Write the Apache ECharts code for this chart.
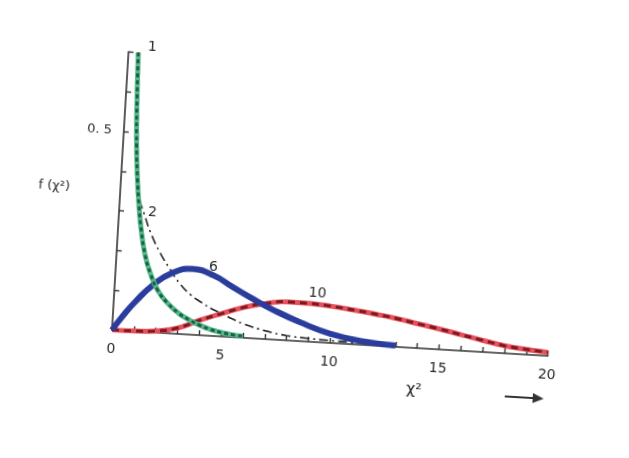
<!DOCTYPE html>
<html>
<head>
<meta charset="utf-8">
<script src="https://cdn.jsdelivr.net/npm/echarts@6/dist/echarts.min.js"></script>
<style>
html,body{margin:0;padding:0;background:#fff;overflow:hidden;}
#c{width:629px;height:458px;transform:rotate(3.4deg);transform-origin:112px 330px;}
</style>
</head>
<body>
<div id="c"></div>
<script>
// chi-square density curves: [chi2, f(chi2)]
const df1 = [[0.45,0.70],[0.52,0.58],[0.62,0.47],[0.76,0.38],[0.9,0.315],[1.05,0.26],[1.3,0.195],[1.6,0.148],[2.0,0.105],[2.5,0.074],[3.0,0.052],[3.5,0.037],[4.0,0.025],[4.5,0.016],[5.0,0.010],[5.5,0.006],[6.0,0.004]];
const df2 = [[0.9,0.33],[1.2,0.29],[1.5,0.25],[2,0.2],[2.5,0.16],[3,0.125],[3.5,0.1],[4,0.083],[4.5,0.068],[5,0.057],[5.5,0.045],[6,0.035],[7,0.021],[8,0.012],[9,0.008],[10,0.006],[11,0.005],[13,0.004]];
const df6 = [[0,0],[0.5,0.04],[1,0.075],[1.75,0.119],[2.6,0.152],[3.5,0.165],[4.5,0.152],[5.4,0.126],[6.4,0.098],[7.3,0.075],[8.6,0.047],[10,0.023],[11.5,0.009],[13,0.003]];
const df10 = [[0,0],[1,0.0008],[2,0.004],[3,0.015],[4,0.038],[5,0.058],[6,0.077],[7,0.09],[8,0.097],[9,0.096],[10,0.092],[11,0.086],[12,0.079],[13,0.071],[14,0.061],[15,0.051],[16,0.04],[17,0.029],[18,0.019],[19,0.013],[20,0.009]];
const xTickLabels = [0,5,10,15,20];
const yTickLabels = [0.5];
const curveNames = ['1','2','6','10'];

const chart = echarts.init(document.getElementById('c'));
const txt = {fontSize:14, fill:'#2a2a2a', fontFamily:'DejaVu Sans'};
chart.setOption({
  animation:false,
  grid:{left:112, top:51.4, width:436.6, height:278.6, containLabel:false},
  xAxis:{type:'value', min:0, max:20, interval:1,
    axisLine:{lineStyle:{color:'#333', width:1.6}},
    axisTick:{inside:true, length:5, lineStyle:{color:'#333', width:1.4}},
    axisLabel:{margin:12, fontSize:14, color:'#2a2a2a', fontFamily:'DejaVu Sans',
      formatter:v=> xTickLabels.includes(Math.round(v*1000)/1000) ? String(v) : ''},
    splitLine:{show:false}},
  yAxis:{type:'value', min:0, max:0.7, interval:0.1,
    axisLine:{show:true, lineStyle:{color:'#333', width:1.6}},
    axisTick:{show:true, inside:true, length:5, lineStyle:{color:'#333', width:1.4}},
    axisLabel:{margin:12, fontSize:13, color:'#2a2a2a', fontFamily:'DejaVu Sans',
      formatter:v=> yTickLabels.includes(Math.round(v*1000)/1000) ? '0. 5' : ''},
    splitLine:{show:false}},
  series:[
    {name:'2', type:'line', data:df2, smooth:true, symbol:'none', z:2,
      lineStyle:{color:'#222', width:1.6, type:[9,4,2,4]}},
    {name:'10', type:'line', data:df10, smooth:true, symbol:'none', z:3,
      lineStyle:{color:'#e8505c', width:5}},
    {name:'10b', type:'line', data:df10, smooth:true, symbol:'none', z:4,
      lineStyle:{color:'#7a1a20', width:3, type:[7,5]}},
    {name:'6', type:'line', data:df6, smooth:true, symbol:'none', z:5,
      lineStyle:{color:'#2b3d9c', width:6}},
    {name:'1', type:'line', data:df1, smooth:true, symbol:'none', z:6,
      lineStyle:{color:'#52b98c', width:5}},
    {name:'1b', type:'line', data:df1, smooth:true, symbol:'none', z:7,
      lineStyle:{color:'#1f5e40', width:3, type:[4,3]}}
  ],
  graphic:[
    {type:'text', left:131, top:38, style:Object.assign({text:curveNames[0]}, txt)},
    {type:'text', left:141, top:203, style:Object.assign({text:curveNames[1]}, txt)},
    {type:'text', left:205, top:254, style:Object.assign({text:curveNames[2]}, txt)},
    {type:'text', left:306, top:274, style:Object.assign({text:curveNames[3]}, txt)},
    {type:'text', left:30, top:183, style:Object.assign({text:'f (χ²)'}, txt, {fontSize:13})},
    {type:'text', left:409, top:364, style:Object.assign({text:'χ²'}, txt, {fontSize:16})},
    {type:'line', shape:{x1:508, y1:373, x2:540, y2:373}, style:{stroke:'#333', lineWidth:2}},
    {type:'polygon', shape:{points:[[547,373],[536,368],[536,378]]}, style:{fill:'#333'}}
  ]
});
</script>
</body>
</html>
